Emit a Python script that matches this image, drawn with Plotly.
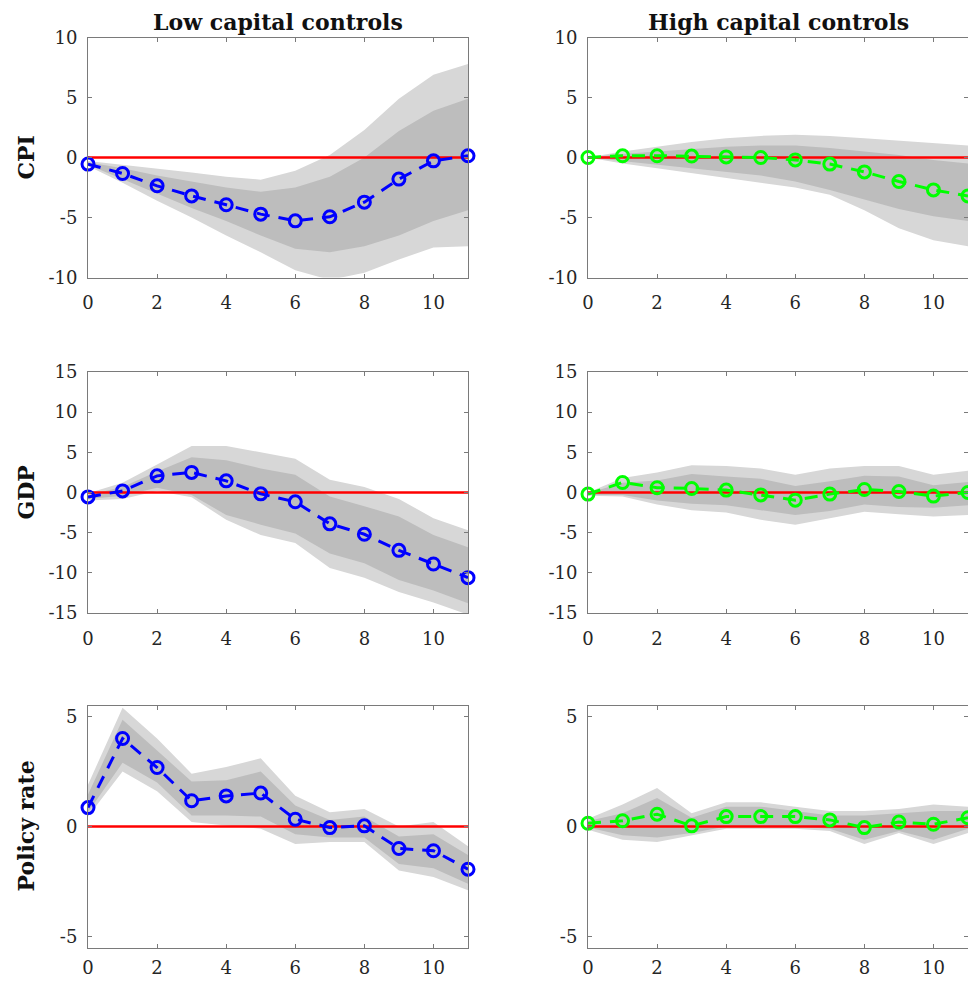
import plotly.graph_objects as go
from plotly.subplots import make_subplots

# Horizons (quarters after the shock)
horizon = list(range(12))

col_titles = ["Low capital controls", "High capital controls"]
row_titles = ["CPI", "GDP", "Policy rate"]
x_ticks = [0, 2, 4, 6, 8, 10]

# ---- CPI ----
cpi_low_mean = [-0.55, -1.33, -2.36, -3.2, -3.94, -4.72, -5.28, -4.94, -3.72, -1.8, -0.28, 0.14]
cpi_low_o_up = [-0.3, -0.6, -0.9, -1.25, -1.6, -1.85, -1.1, 0.2, 2.3, 4.9, 6.9, 7.8]
cpi_low_i_up = [-0.4, -0.9, -1.5, -2.0, -2.5, -2.85, -2.5, -1.6, 0.0, 2.2, 3.9, 4.9]
cpi_low_i_lo = [-0.6, -1.8, -3.0, -4.2, -5.3, -6.5, -7.6, -7.9, -7.4, -6.5, -5.3, -4.4]
cpi_low_o_lo = [-0.7, -2.1, -3.6, -5.0, -6.5, -7.9, -9.4, -10.2, -9.6, -8.5, -7.5, -7.4]

cpi_high_mean = [0.0, 0.15, 0.15, 0.12, 0.05, 0.0, -0.2, -0.55, -1.2, -2.0, -2.7, -3.2]
cpi_high_o_up = [0.0, 0.5, 0.9, 1.3, 1.6, 1.8, 1.9, 1.8, 1.6, 1.4, 1.2, 1.0]
cpi_high_i_up = [0.0, 0.3, 0.5, 0.7, 0.9, 1.0, 1.0, 0.8, 0.5, 0.2, -0.2, -0.5]
cpi_high_i_lo = [0.0, -0.3, -0.6, -0.9, -1.2, -1.5, -2.0, -2.7, -3.5, -4.3, -4.9, -5.3]
cpi_high_o_lo = [0.0, -0.5, -0.9, -1.3, -1.7, -2.1, -2.5, -3.1, -4.4, -5.9, -6.9, -7.4]

# ---- GDP ----
gdp_low_mean = [-0.55, 0.2, 2.07, 2.5, 1.45, -0.17, -1.16, -3.9, -5.2, -7.2, -8.9, -10.6]
gdp_low_o_up = [-0.1, 1.2, 3.5, 5.8, 5.8, 5.0, 4.2, 1.6, 0.7, -0.8, -3.2, -4.7]
gdp_low_i_up = [-0.3, 0.7, 2.6, 4.4, 4.0, 3.0, 2.2, -0.5, -1.7, -3.0, -5.3, -6.8]
gdp_low_i_lo = [-0.8, -0.4, 0.6, -0.3, -2.8, -4.0, -5.1, -7.6, -8.8, -10.9, -12.2, -13.8]
gdp_low_o_lo = [-1.0, -0.8, 0.2, -0.6, -3.4, -5.3, -6.3, -9.4, -10.6, -12.4, -13.7, -15.2]

gdp_high_mean = [-0.2, 1.25, 0.6, 0.5, 0.3, -0.3, -0.95, -0.2, 0.37, 0.12, -0.45, 0.0]
gdp_high_o_up = [0.0, 1.8, 2.5, 3.4, 3.3, 3.0, 2.2, 3.0, 3.3, 3.3, 2.2, 2.7]
gdp_high_i_up = [-0.1, 1.2, 1.5, 2.3, 2.0, 1.7, 0.8, 1.4, 2.1, 2.0, 0.9, 1.3]
gdp_high_i_lo = [-0.3, -0.3, -1.0, -1.4, -1.6, -2.2, -2.8, -2.3, -1.5, -1.8, -1.9, -1.6]
gdp_high_o_lo = [-0.4, -0.5, -1.5, -2.2, -2.5, -3.4, -4.0, -3.2, -2.4, -2.7, -3.0, -2.8]

# ---- Policy rate ----
rate_low_mean = [0.86, 4.0, 2.68, 1.17, 1.39, 1.52, 0.33, -0.05, 0.03, -1.0, -1.1, -1.94]
rate_low_o_up = [1.9, 5.4, 4.0, 2.4, 2.7, 3.1, 1.4, 0.65, 0.8, 0.0, 0.2, -0.9]
rate_low_i_up = [1.45, 4.85, 3.45, 2.05, 2.1, 2.5, 0.95, 0.3, 0.45, -0.45, -0.35, -1.3]
rate_low_i_lo = [0.65, 2.9, 2.0, 0.5, 0.5, 0.45, -0.35, -0.5, -0.5, -1.7, -1.9, -2.6]
rate_low_o_lo = [0.45, 2.5, 1.6, 0.2, 0.05, -0.1, -0.8, -0.7, -0.7, -2.0, -2.3, -2.9]

rate_high_mean = [0.15, 0.26, 0.56, 0.03, 0.45, 0.45, 0.45, 0.3, -0.05, 0.2, 0.1, 0.4]
rate_high_o_up = [0.35, 1.0, 1.75, 0.6, 1.1, 1.1, 0.9, 0.7, 0.7, 0.8, 1.0, 0.9]
rate_high_i_up = [0.25, 0.6, 1.3, 0.4, 0.9, 0.9, 0.7, 0.5, 0.5, 0.6, 0.7, 0.7]
rate_high_i_lo = [-0.05, -0.4, -0.5, -0.3, 0.0, 0.0, 0.0, -0.1, -0.6, -0.2, -0.6, -0.1]
rate_high_o_lo = [-0.15, -0.6, -0.7, -0.4, -0.1, -0.1, -0.1, -0.2, -0.8, -0.3, -0.8, -0.3]

panels = [
    # (row, col, mean, outer_up, inner_up, inner_lo, outer_lo, colour)
    (1, 1, cpi_low_mean, cpi_low_o_up, cpi_low_i_up, cpi_low_i_lo, cpi_low_o_lo, "#0000ff"),
    (1, 2, cpi_high_mean, cpi_high_o_up, cpi_high_i_up, cpi_high_i_lo, cpi_high_o_lo, "#00ff00"),
    (2, 1, gdp_low_mean, gdp_low_o_up, gdp_low_i_up, gdp_low_i_lo, gdp_low_o_lo, "#0000ff"),
    (2, 2, gdp_high_mean, gdp_high_o_up, gdp_high_i_up, gdp_high_i_lo, gdp_high_o_lo, "#00ff00"),
    (3, 1, rate_low_mean, rate_low_o_up, rate_low_i_up, rate_low_i_lo, rate_low_o_lo, "#0000ff"),
    (3, 2, rate_high_mean, rate_high_o_up, rate_high_i_up, rate_high_i_lo, rate_high_o_lo, "#00ff00"),
]

y_ranges = {1: [-10, 10], 2: [-15, 15], 3: [-5.5, 5.5]}
y_ticks = {1: [-10, -5, 0, 5, 10], 2: [-15, -10, -5, 0, 5, 10, 15], 3: [-5, 0, 5]}
x_standoff = {1: 9, 2: 9, 3: 4}

OUTER = "rgb(215,215,215)"
INNER = "rgb(189,189,189)"
AXIS = "#7a7a7a"
FONT = "DejaVu Serif"

W, H = 968, 981
col_px = {1: (88, 468), 2: (588, 968)}
row_px = {1: (37.5, 277.5), 2: (372, 613), 3: (705.5, 947.5)}

fig = make_subplots(rows=3, cols=2)

for row, col, mean, o_up, i_up, i_lo, o_lo, colour in panels:
    # outer band
    fig.add_trace(go.Scatter(x=horizon, y=o_lo, mode="lines", line=dict(width=0),
                             hoverinfo="skip"), row=row, col=col)
    fig.add_trace(go.Scatter(x=horizon, y=o_up, mode="lines", line=dict(width=0),
                             fill="tonexty", fillcolor=OUTER, hoverinfo="skip"),
                  row=row, col=col)
    # inner band
    fig.add_trace(go.Scatter(x=horizon, y=i_lo, mode="lines", line=dict(width=0),
                             hoverinfo="skip"), row=row, col=col)
    fig.add_trace(go.Scatter(x=horizon, y=i_up, mode="lines", line=dict(width=0),
                             fill="tonexty", fillcolor=INNER, hoverinfo="skip"),
                  row=row, col=col)
    # zero reference line
    fig.add_trace(go.Scatter(x=[horizon[0], horizon[-1]], y=[0, 0], mode="lines",
                             line=dict(color="#ff0000", width=2.5)), row=row, col=col)
    # median response
    fig.add_trace(go.Scatter(x=horizon, y=mean, mode="lines+markers",
                             line=dict(color=colour, width=3, dash="13px,9px"),
                             marker=dict(symbol="circle-open", size=12, color=colour,
                                         line=dict(width=3, color=colour)),
                             cliponaxis=False),
                  row=row, col=col)

for row in (1, 2, 3):
    for col in (1, 2):
        x0, x1 = col_px[col]
        t, b = row_px[row]
        fig.update_xaxes(row=row, col=col, automargin=False,
                         domain=[x0 / W, min(x1 / W, 1.0)], range=[0, 11],
                         tickvals=x_ticks, ticktext=[str(v) for v in x_ticks],
                         ticks="inside", ticklen=4,
                         tickcolor=AXIS, showline=True, linecolor=AXIS, linewidth=1,
                         mirror="ticks", showgrid=False, zeroline=False,
                         ticklabelstandoff=x_standoff[row],
                         tickfont=dict(family=FONT, size=18, color="#262626"))
        fig.update_yaxes(row=row, col=col, automargin=False,
                         domain=[1 - b / H, 1 - t / H], range=y_ranges[row],
                         tickvals=y_ticks[row],
                         ticktext=[str(v) for v in y_ticks[row]],
                         ticks="inside", ticklen=4,
                         tickcolor=AXIS, showline=True, linecolor=AXIS, linewidth=1,
                         mirror="ticks", showgrid=False, zeroline=False,
                         ticklabelstandoff=6,
                         tickfont=dict(family=FONT, size=18, color="#262626"))

annotations = []
for col, title in zip((1, 2), col_titles):
    x0, x1 = col_px[col]
    annotations.append(dict(text=title, x=(x0 + x1) / 2 / W, y=1 - 22 / H,
                            xref="paper", yref="paper", xanchor="center", yanchor="middle",
                            showarrow=False,
                            font=dict(family=FONT, size=22, color="#111111", weight="bold")))
for row, title in zip((1, 2, 3), row_titles):
    t, b = row_px[row]
    annotations.append(dict(text=title, x=25 / W, y=1 - (t + b) / 2 / H,
                            xref="paper", yref="paper", xanchor="center", yanchor="middle",
                            textangle=-90, showarrow=False,
                            font=dict(family=FONT, size=22, color="#111111", weight="bold")))

fig.update_layout(width=W, height=H, margin=dict(l=0, r=0, t=0, b=0),
                  paper_bgcolor="white", plot_bgcolor="white", showlegend=False,
                  annotations=annotations)

fig.write_html("out.html")
